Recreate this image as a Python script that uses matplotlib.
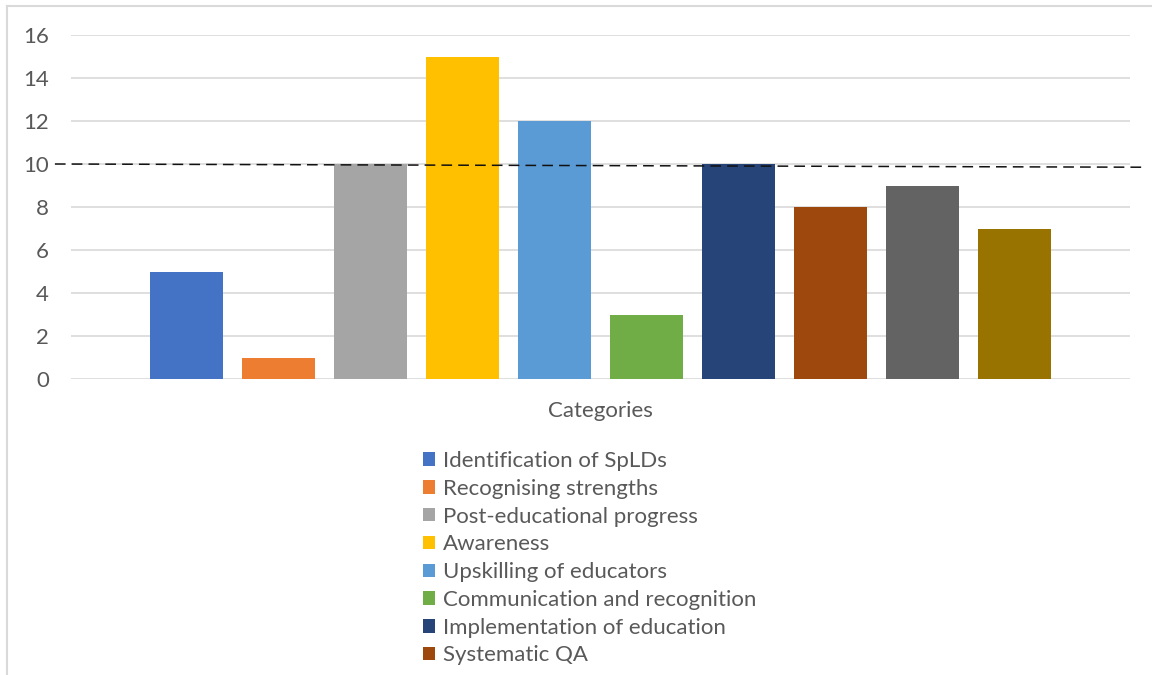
import matplotlib
matplotlib.use("Agg")
import matplotlib.pyplot as plt
from matplotlib.patches import Patch
from matplotlib.lines import Line2D
import numpy as np

series_names = ["Identification of SpLDs", "Recognising strengths", "Post-educational progress",
                "Awareness", "Upskilling of educators", "Communication and recognition",
                "Implementation of education", "Systematic QA", "Series 9", "Series 10"]
values = [5, 1, 10, 15, 12, 3, 10, 8, 9, 7]
colors = ["#4472C4", "#ED7D31", "#A5A5A5", "#FFC000", "#5B9BD5", "#70AD47",
          "#264478", "#9E480E", "#636363", "#997300"]
y_ticks = [0, 2, 4, 6, 8, 10, 12, 14, 16]
x_label = "Categories"
threshold_start = 10
threshold_end = 9.85
legend_count = 8  # only 8 entries visible in the reference

plt.rcParams['font.family'] = ['Lato', 'DejaVu Sans']
txt = "#595959"
grid_c = "#d9d9d9"
fs = 16

fig = plt.figure(figsize=(11.52, 6.75), dpi=100)
ax = fig.add_axes([71/1152, 1-379/675, (1130-71)/1152, (379-35)/675])

x = np.arange(len(values))
ax.bar(x, values, width=0.79, color=colors, zorder=3)
ax.set_xlim(-1.255, len(values) - 1 + 1.255)
ax.set_ylim(0, 16)
ax.set_yticks(y_ticks)
ax.set_yticklabels([str(t) for t in y_ticks])
ax.set_xticks([])
ax.grid(axis='y', color=grid_c, linewidth=1.2, zorder=0)
for s in ax.spines.values():
    s.set_visible(False)
ax.tick_params(axis='y', length=0, pad=16, labelsize=fs, labelcolor=txt)
ax.set_xlabel(x_label, fontsize=fs, color=txt, labelpad=16)

# dashed threshold line
ax.plot([-1.43, 10.42], [threshold_start, threshold_end], linestyle=(0, (7, 4)),
        color="#111111", linewidth=1.1, clip_on=False, zorder=4)

# figure border (left and top)
fig.add_artist(Line2D([7/1152, 7/1152], [0, 1-6/675], transform=fig.transFigure,
                      color=grid_c, linewidth=1.5))
fig.add_artist(Line2D([7/1152, 1], [1-6/675, 1-6/675], transform=fig.transFigure,
                      color=grid_c, linewidth=1.5))

handles = [Patch(facecolor=colors[i], edgecolor='none') for i in range(legend_count)]
leg = fig.legend(handles, series_names[:legend_count], loc='upper left',
                 bbox_to_anchor=(423/1152, 1-451/675), frameon=False,
                 fontsize=fs, labelcolor=txt, handlelength=0.55, handleheight=0.55,
                 handletextpad=0.35, labelspacing=0.35, borderpad=0, borderaxespad=0)

fig.savefig("out.png", dpi=100)
